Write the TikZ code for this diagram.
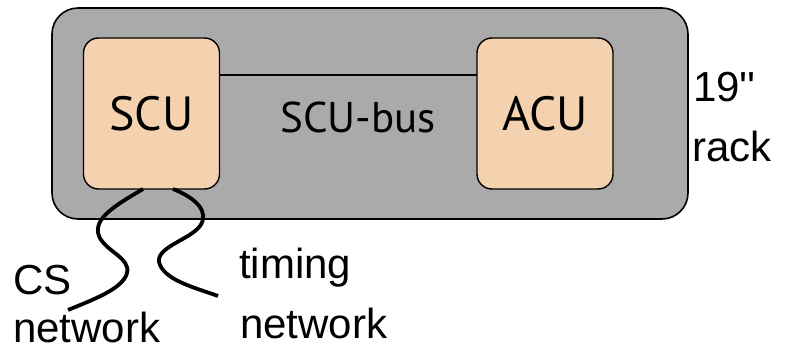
\documentclass[tikz,border=0pt]{standalone}
\usepackage{fontspec}
\setmainfont{Liberation Sans}
\newfontfamily\unitfont{PT Sans}
\definecolor{rackgray}{RGB}{170,170,170}
\definecolor{unitpeach}{RGB}{244,210,176}
\begin{document}
\begin{tikzpicture}[x=1pt,y=-1pt,
  rackbox/.style={draw=black, line width=1.6pt, fill=rackgray, rounded corners=26pt, inner sep=0pt},
  unitbox/.style={draw=black, line width=1.4pt, fill=unitpeach, rounded corners=15pt,
    minimum width=136pt, minimum height=151pt, inner sep=0pt,
    font=\unitfont\fontsize{48}{52}\selectfont},
  buslabel/.style={font=\unitfont\fontsize{43}{48}\selectfont},
  label/.style={anchor=base west, inner sep=0pt, font=\fontsize{42}{46}\selectfont},
  cable/.style={draw=black, line width=3.8pt}]
  \useasboundingbox (0,0) rectangle (785,350);
  % the 19'' rack
  \node[rackbox, minimum width=636pt, minimum height=211pt] (rack) at (370,113.5) {};
  % control units in the rack
  \node[unitbox] (scu) at (151.5,113.5) {SCU};
  \node[unitbox] (acu) at (545,113.5) {ACU};
  % SCU-bus between the units
  \coordinate (busL) at (220,75);
  \coordinate (busR) at (477,75);
  \draw[line width=1.5pt] (busL) -- (busR);
  \node[buslabel] (bus) at (358,117) {SCU-bus};
  % cables leaving the SCU
  \coordinate (csA) at (143,189);
  \coordinate (csEnd) at (68,310);
  \coordinate (tmA) at (173,189);
  \coordinate (tmEnd) at (218,296);
  \draw[cable] (csA) .. controls (118,204) and (92,218) .. (99,236)
    .. controls (105,251) and (131,258) .. (127,273)
    .. controls (123,289) and (92,300) .. (csEnd);
  \draw[cable] (tmA) .. controls (196,198) and (210,212) .. (200,226)
    .. controls (190,240) and (152,248) .. (160,265)
    .. controls (167,281) and (196,288) .. (tmEnd);
  % labels
  \node[label] (rackA) at (693,102) {19\textquotesingle\textquotesingle};
  \node[label] (rackB) at (692,162) {rack};
  \node[label] (cs) at (13,294) {CS};
  \node[label] (csnet) at (13,342) {network};
  \node[label] (tim) at (239,278) {timing};
  \node[label] (timnet) at (240,338) {network};
\end{tikzpicture}
\end{document}
